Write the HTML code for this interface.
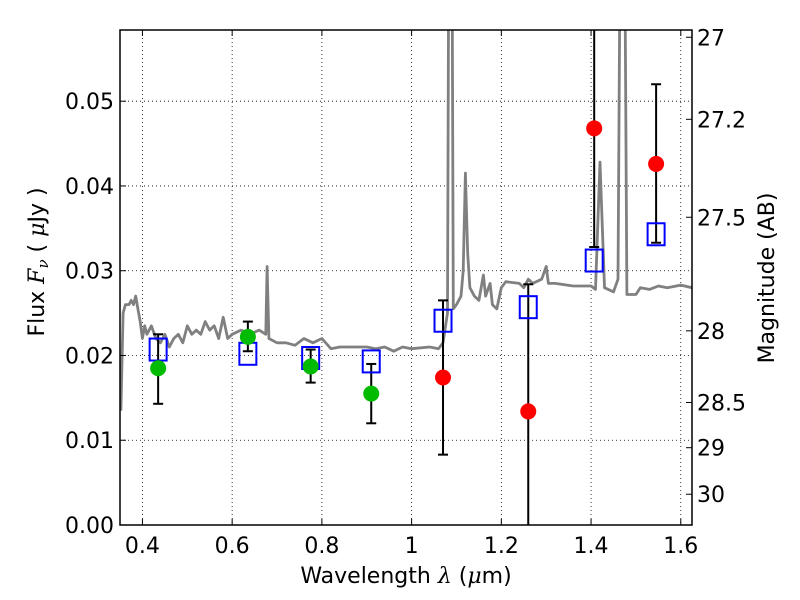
<!DOCTYPE html>
<html><head><meta charset="utf-8">
<style>
html,body{margin:0;padding:0;background:#fff;}
svg{display:block;font-family:"DejaVu Sans","Liberation Sans",sans-serif;}
</style></head>
<body>
<svg id="chart" width="800" height="600" viewBox="0 0 800 600" xmlns="http://www.w3.org/2000/svg">
<rect width="800" height="600" fill="#fff"/>
<g id="grid"></g>
<g id="spec"></g>
<g id="marks"></g>
<g id="axes"></g>
</svg>
<script>
const xTicks=[0.4,0.6,0.8,1.0,1.2,1.4,1.6];
const xTickLabels=["0.4","0.6","0.8","1","1.2","1.4","1.6"];
const yTicks=[0,0.01,0.02,0.03,0.04,0.05];
const yTickLabels=["0.00","0.01","0.02","0.03","0.04","0.05"];
const magTicks=[27,27.2,27.5,28,28.5,29,30];
const magTickLabels=["27","27.2","27.5","28","28.5","29","30"];
const bandWave=[0.435,0.635,0.775,0.91,1.07,1.26,1.407,1.545];
const obsFlux=[0.0185,0.0222,0.0187,0.0155,0.0174,0.0134,0.0468,0.0426];
const errLow=[0.0143,0.0205,0.0168,0.0120,0.0083,-0.01,0.0328,0.0333];
const errHigh=[0.0225,0.0240,0.0207,0.0190,0.0265,0.0284,0.07,0.0520];
const obsColor=["green","green","green","green","red","red","red","red"];
const modelFlux=[0.0207,0.0202,0.0197,0.0193,0.0241,0.0257,0.0312,0.0343];
const specWave=[0.352,0.357,0.362,0.37,0.375,0.38,0.385,0.39,0.395,0.40,0.405,0.41,0.42,0.43,0.44,0.45,0.46,0.47,0.48,0.49,0.50,0.51,0.52,0.53,0.54,0.55,0.56,0.57,0.58,0.59,0.60,0.62,0.64,0.66,0.675,0.678,0.682,0.70,0.72,0.74,0.76,0.78,0.80,0.82,0.84,0.86,0.88,0.90,0.92,0.94,0.96,0.98,1.0,1.04,1.06,1.07,1.08,1.083,1.09,1.093,1.10,1.11,1.115,1.12,1.125,1.13,1.14,1.15,1.16,1.165,1.175,1.18,1.19,1.20,1.21,1.24,1.25,1.26,1.27,1.29,1.30,1.305,1.32,1.36,1.40,1.41,1.42,1.43,1.45,1.46,1.465,1.475,1.48,1.50,1.51,1.53,1.55,1.57,1.60,1.625];
const specFlux=[0.0135,0.025,0.026,0.026,0.0265,0.026,0.027,0.0255,0.024,0.022,0.0235,0.0225,0.0235,0.022,0.0215,0.0225,0.021,0.022,0.0225,0.0215,0.0235,0.0225,0.023,0.0225,0.024,0.023,0.0235,0.022,0.0245,0.022,0.0225,0.023,0.0225,0.023,0.0225,0.0305,0.022,0.0215,0.0215,0.0212,0.022,0.0215,0.022,0.0208,0.021,0.021,0.021,0.021,0.0208,0.021,0.0205,0.021,0.0208,0.021,0.0208,0.0215,0.025,0.07,0.07,0.0255,0.026,0.027,0.03,0.0415,0.032,0.028,0.027,0.0265,0.0295,0.027,0.0285,0.026,0.0255,0.028,0.0287,0.0285,0.028,0.029,0.0285,0.029,0.0305,0.0285,0.0285,0.0282,0.0282,0.0278,0.0428,0.028,0.0275,0.029,0.07,0.07,0.0272,0.0272,0.028,0.0278,0.0282,0.028,0.0283,0.028];

const L=120,R=692,T=30,B=525,X0=0.35,X1=1.625,Y0=0,Y1=0.0584;
const xs=v=>L+(v-X0)/(X1-X0)*(R-L);
const ys=v=>B-(v-Y0)/(Y1-Y0)*(B-T);
const magToFlux=m=>Math.pow(10,(23.9-m)/2.5);
const NS="http://www.w3.org/2000/svg";
function mk(tag,attrs,parent){const e=document.createElementNS(NS,tag);for(const k in attrs)e.setAttribute(k,attrs[k]);parent.appendChild(e);return e;}
const grid=document.getElementById('grid'),spec=document.getElementById('spec'),marks=document.getElementById('marks'),axes=document.getElementById('axes');
const svg=document.getElementById('chart');
const defs=mk('defs',{},svg);const cp=mk('clipPath',{id:'clip'},defs);mk('rect',{x:L,y:T,width:R-L,height:B-T},cp);
spec.setAttribute('clip-path','url(#clip)');marks.setAttribute('clip-path','url(#clip)');

xTicks.forEach((v,i)=>{
  const x=xs(v);
  const g=mk('line',{x1:x,x2:x,y1:T,y2:B,stroke:'#000','stroke-width':0.8,'stroke-dasharray':'1,3'},grid);
  
  mk('line',{x1:x,x2:x,y1:B,y2:B-6,stroke:'#000'},axes);
  mk('line',{x1:x,x2:x,y1:T,y2:T+6,stroke:'#000'},axes);
  const t=mk('text',{x:x,y:B+28,'font-size':22,'text-anchor':'middle'},axes);t.textContent=xTickLabels[i];
  
});
yTicks.forEach((v,i)=>{
  const y=ys(v);
  if(v>0){const g=mk('line',{x1:L,x2:R,y1:y,y2:y,stroke:'#000','stroke-width':0.8,'stroke-dasharray':'1,3'},grid);
  }
  mk('line',{x1:L,x2:L+6,y1:y,y2:y,stroke:'#000'},axes);
  const t=mk('text',{x:L-6,y:y+8,'font-size':22,'text-anchor':'end'},axes);t.textContent=yTickLabels[i];
  
});
magTicks.forEach((m,i)=>{
  const y=ys(magToFlux(m));
  mk('line',{x1:R,x2:R-6,y1:y,y2:y,stroke:'#000'},axes);
  const t=mk('text',{x:R+5,y:y+8,'font-size':22},axes);t.textContent=magTickLabels[i];
  
});
const pts=specWave.map((w,i)=>xs(w).toFixed(1)+','+ys(specFlux[i]).toFixed(1)).join(' ');
const pl=mk('polyline',{points:pts,fill:'none',stroke:'#808080','stroke-width':2.8,'stroke-linejoin':'round'},spec);

bandWave.forEach((w,i)=>{
  const x=xs(w);
  const eb=mk('g',{},marks);
  
  mk('line',{x1:x,x2:x,y1:ys(errLow[i]),y2:ys(errHigh[i]),stroke:'#000','stroke-width':2},eb);
  mk('line',{x1:x-5,x2:x+5,y1:ys(errLow[i]),y2:ys(errLow[i]),stroke:'#000','stroke-width':2},eb);
  mk('line',{x1:x-5,x2:x+5,y1:ys(errHigh[i]),y2:ys(errHigh[i]),stroke:'#000','stroke-width':2},eb);
  const sq=mk('rect',{x:x-8.5,y:ys(modelFlux[i])-11,width:17,height:22,fill:'none',stroke:'#0000ff','stroke-width':2},marks);
  
  const c=mk('circle',{cx:x,cy:ys(obsFlux[i]),r:8,fill:obsColor[i]==='green'?'#00bb00':'#ff0000'},marks);
  
});
const fr=mk('rect',{x:L,y:T,width:R-L,height:B-T,fill:'none',stroke:'#000','stroke-width':1.5},axes);

</script>
<svg style="position:absolute;left:0;top:0" width="800" height="600">
<text x="406" y="583" font-size="22" text-anchor="middle" font-family="DejaVu Sans, sans-serif">Wavelength  <tspan font-style="italic" font-family="DejaVu Serif, serif">λ</tspan> (<tspan font-style="italic" font-family="DejaVu Serif, serif">μ</tspan>m)</text>
<text transform="translate(44,262) rotate(-90)" font-size="22" text-anchor="middle" font-family="DejaVu Sans, sans-serif">Flux  <tspan font-style="italic" font-family="DejaVu Serif, serif">F<tspan font-size="15" dy="4">ν</tspan></tspan><tspan dy="-4">  (  </tspan><tspan font-style="italic" font-family="DejaVu Serif, serif">μ</tspan>Jy )</text>
<text transform="translate(774,278) rotate(-90)" font-size="22" text-anchor="middle" font-family="DejaVu Sans, sans-serif">Magnitude (AB)</text>
</svg>
</body></html>
